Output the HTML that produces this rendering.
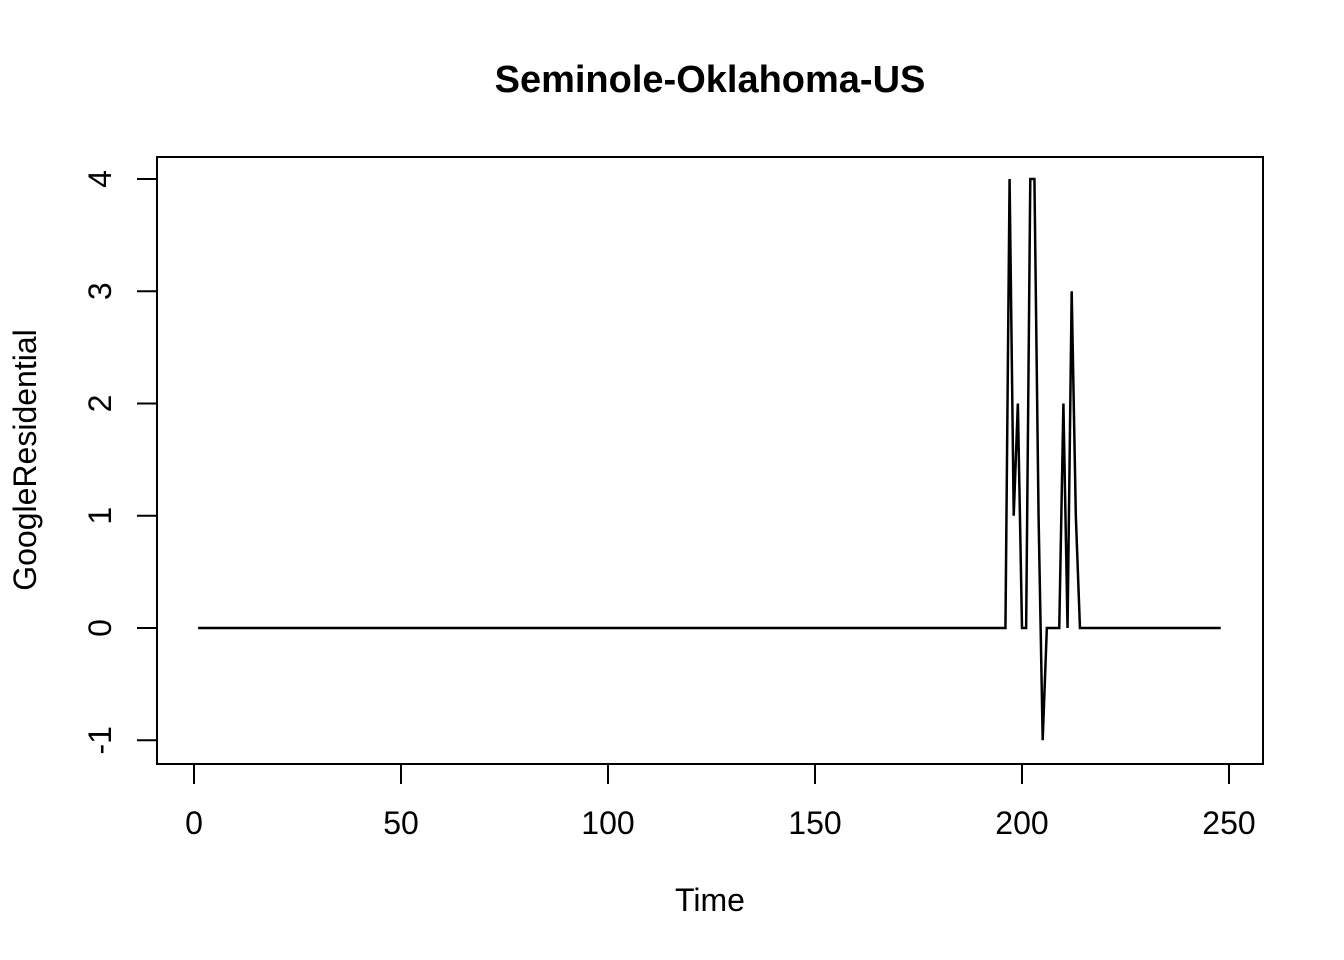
<!DOCTYPE html>
<html><head><meta charset="utf-8"><style>body{margin:0;background:#fff}svg{display:block}text{font-family:"Liberation Sans",Arial,sans-serif;fill:#000}</style></head>
<body>
<svg id="c" width="1344" height="960">
<text x="710" y="92" font-size="38" font-weight="bold" text-anchor="middle">Seminole-Oklahoma-US</text>
<rect x="157" y="157" width="1106" height="607" fill="none" stroke="#000" stroke-width="2"/>
<text x="710" y="911" font-size="32" text-anchor="middle">Time</text>
<text transform="translate(36,460) rotate(-90)" font-size="32" text-anchor="middle">GoogleResidential</text>
<g id="xa"></g>
<g id="ya"></g>
<path id="ln" fill="none" stroke="#000" stroke-width="2.5" stroke-linejoin="miter"/>
</svg>
<script>
const xTicks=[0,50,100,150,200,250];
const yTicks=[-1,0,1,2,3,4];
const spikeStart=196;
const spikeValues=[0,4,1,2,0,0,4,4,1,-1,0,0,0,0,2,0,3,1,0];
const nPoints=248;
const values=[];
for(let t=1;t<=nPoints;t++){const i=t-spikeStart;values.push(i>=0&&i<spikeValues.length?spikeValues[i]:0);}
const X=t=>194+(t-0)*(1229-194)/250;
const Y=v=>628-v*(628-179)/4;
const ns="http://www.w3.org/2000/svg";
const xa=document.getElementById('xa'),ya=document.getElementById('ya');
function mk(tag,a,p){const e=document.createElementNS(ns,tag);for(const k in a)e.setAttribute(k,a[k]);p.appendChild(e);return e;}
let l=mk('line',{x1:X(0),x2:X(250),y1:764,y2:764,stroke:'#000','stroke-width':2},xa);


xTicks.forEach(t=>{const k=mk('line',{x1:X(t),x2:X(t),y1:764,y2:784,stroke:'#000','stroke-width':2},xa);


const tx=mk('text',{x:X(t),y:834,'font-size':32,'text-anchor':'middle'},xa);tx.textContent=t;

});
l=mk('line',{x1:157,x2:157,y1:Y(-1),y2:Y(4),stroke:'#000','stroke-width':2},ya);


yTicks.forEach(v=>{const k=mk('line',{x1:137,x2:157,y1:Y(v),y2:Y(v),stroke:'#000','stroke-width':2},ya);


const tx=mk('text',{transform:`translate(111,${Y(v)}) rotate(-90)`,'font-size':32,'text-anchor':'middle'},ya);tx.textContent=v;

});
document.getElementById('ln').setAttribute('d',values.map((v,i)=>(i?'L':'M')+X(i+1).toFixed(2)+','+Y(v).toFixed(2)).join(''));
</script>
</body></html>
